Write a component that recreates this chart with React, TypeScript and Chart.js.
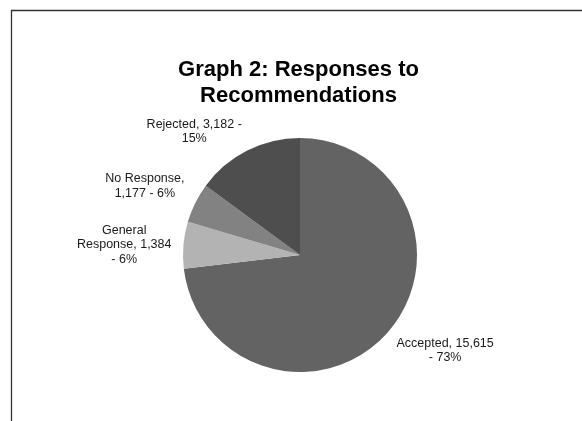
import React, { useEffect, useRef } from "react";
import { Chart, registerables } from "chart.js";

Chart.register(...registerables);

const categories = ["Accepted", "General Response", "No Response", "Rejected"];
const values = [15615, 1384, 1177, 3182];
const colors = ["#636363", "#b3b3b3", "#828282", "#4e4e4e"];
const titleLines = ["Graph 2: Responses to", "Recommendations"];

const WIDTH = 582;
const HEIGHT = 421;
const FONT = "'Liberation Sans', Arial, sans-serif";

function fmt(n: number): string {
  return n.toLocaleString("en-US");
}

function wrap(ctx: CanvasRenderingContext2D, text: string, maxW: number): string[] {
  const words = text.split(" ");
  const lines: string[] = [];
  let cur = "";
  for (const w of words) {
    const test = cur ? cur + " " + w : w;
    if (cur && ctx.measureText(test).width > maxW) {
      lines.push(cur);
      cur = w;
    } else {
      cur = test;
    }
  }
  if (cur) lines.push(cur);
  return lines;
}

const overlay = {
  id: "overlay",
  afterDraw(chart: any) {
    const ctx: CanvasRenderingContext2D = chart.ctx;
    ctx.save();

    // chart frame (cropped at right and bottom)
    const frameLeft = 11;
    const frameRight = 586;
    ctx.strokeStyle = "#333333";
    ctx.lineWidth = 1.3;
    ctx.beginPath();
    ctx.moveTo(frameLeft + 0.5, chart.height);
    ctx.lineTo(frameLeft + 0.5, 10.5);
    ctx.lineTo(chart.width, 10.5);
    ctx.stroke();

    // title
    ctx.fillStyle = "#000000";
    ctx.font = `bold 22px ${FONT}`;
    ctx.textAlign = "center";
    ctx.textBaseline = "alphabetic";
    const tx = (frameLeft + frameRight) / 2;
    titleLines.forEach((t, i) => ctx.fillText(t, tx, 76 + i * 25.5));

    // data labels
    const total = values.reduce((a, b) => a + b, 0);
    const meta = chart.getDatasetMeta(0);
    ctx.font = `12.5px ${FONT}`;
    ctx.fillStyle = "#1a1a1a";
    const lh = 14.5;
    meta.data.forEach((arc: any, i: number) => {
      const p = arc.getProps(["x", "y", "startAngle", "endAngle", "outerRadius"], true);
      const mid = (p.startAngle + p.endAngle) / 2;
      const c = Math.cos(mid);
      const s = Math.sin(mid);
      const ax = p.x + (p.outerRadius + 12) * c;
      const ay = p.y + (p.outerRadius + 5) * s;
      const pct = Math.round((values[i] / total) * 100);
      const text = `${categories[i]}, ${fmt(values[i])} - ${pct}%`;
      const lines = wrap(ctx, text, 100);
      const w = Math.max(...lines.map((l) => ctx.measureText(l).width));
      const h = lines.length * lh;
      let left: number;
      if (c > 0.25) left = ax;
      else if (c < -0.25) left = ax - w;
      else left = ax - w / 2;
      let top: number;
      if (s > 0.4) top = ay;
      else if (s < -0.4) top = ay - h;
      else top = ay - h / 2;
      ctx.textAlign = "center";
      ctx.textBaseline = "middle";
      lines.forEach((l, k) => ctx.fillText(l, left + w / 2, top + lh / 2 + k * lh));
    });

    ctx.restore();
  },
};

export default function App() {
  const ref = useRef<HTMLCanvasElement | null>(null);
  useEffect(() => {
    if (!ref.current) return;
    const chart = new Chart(ref.current, {
      type: "pie",
      data: {
        labels: categories,
        datasets: [
          {
            data: values,
            backgroundColor: colors,
            borderWidth: 0,
          },
        ],
      },
      options: {
        responsive: false,
        animation: false,
        devicePixelRatio: 1,
        layout: { padding: { top: 138, bottom: 49, left: 183, right: 165 } },
        plugins: {
          legend: { display: false },
          tooltip: { enabled: false },
          title: { display: false },
        },
      },
      plugins: [overlay],
    });
    return () => chart.destroy();
  }, []);
  return (
    <div style={{ position: "absolute", left: 0, top: 0, width: WIDTH, height: HEIGHT, background: "#ffffff" }}>
      <canvas ref={ref} width={WIDTH} height={HEIGHT} style={{ display: "block" }} />
    </div>
  );
}
